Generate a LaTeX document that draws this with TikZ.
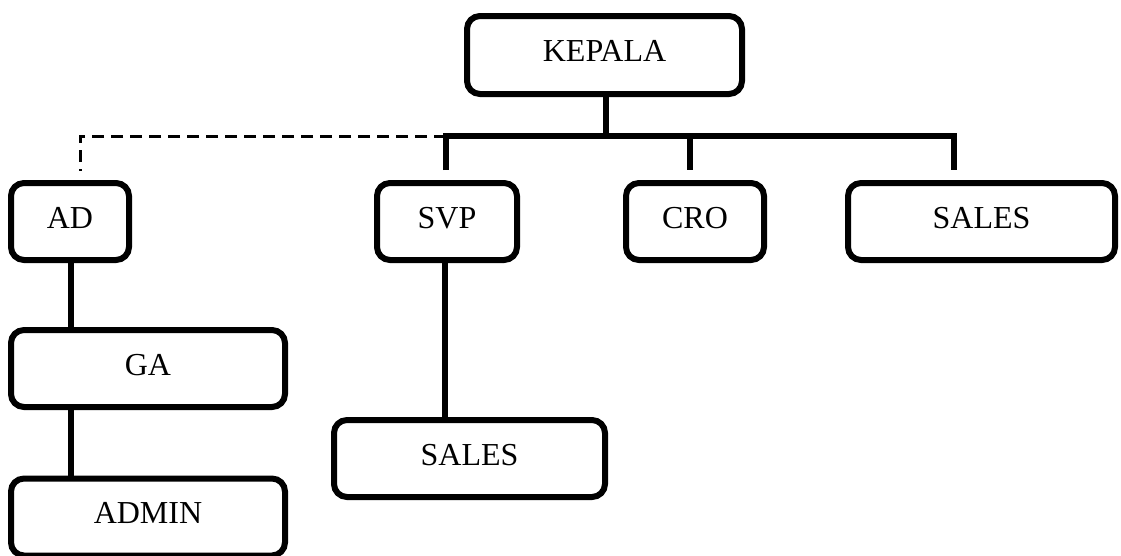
\documentclass[tikz,border=0pt]{standalone}
\usepackage{fontspec}
\setmainfont{Liberation Serif}
\begin{document}
\begin{tikzpicture}[x=1pt,y=-1pt,
  box/.style={draw=black, line width=6pt, rounded corners=13pt, fill=white,
    inner sep=0pt, minimum height=77pt, text height=21pt, text depth=8pt,
    font=\fontsize{32}{38}\selectfont},
  conn/.style={line width=6pt, draw=black},
  dashconn/.style={line width=3pt, draw=black, dash pattern=on 12pt off 7pt}]
\useasboundingbox (0,0) rectangle (1121,555);
\node[box, minimum width=275pt, minimum height=78pt] (kepala) at (604.5,55) {KEPALA};
\node[box, minimum width=118pt] (ad) at (70,221.5) {AD};
\node[box, minimum width=140pt] (svp) at (447,221.5) {SVP};
\node[box, minimum width=138pt] (cro) at (695,221.5) {CRO};
\node[box, minimum width=267pt] (sales) at (981.5,221.5) {SALES};
\node[box, minimum width=274pt] (ga) at (148,368.5) {GA};
\node[box, minimum width=274pt] (admin) at (148,517) {ADMIN};
\node[box, minimum width=271pt] (sales2) at (469.5,458.5) {SALES};
\coordinate (barL) at (446,136);
\coordinate (barR) at (954,136);
\draw[conn] ([xshift=1.5pt]kepala.south) -- ([xshift=1.5pt]kepala.south |- barL);
\draw[conn] ([xshift=-1pt,yshift=10pt]svp.north) -- ([xshift=-1pt]svp.north |- barL) -- (barR) -- ([yshift=10pt]barR |- sales.north);
\draw[conn] ([xshift=-5pt]cro.north |- barL) -- ([xshift=-5pt,yshift=10pt]cro.north);
\draw[dashconn] (barL) -| ([xshift=10pt,yshift=9pt]ad.north);
\draw[conn] ([xshift=1pt]ad.south) -- ([xshift=1pt]ad.south |- ga.north);
\draw[conn] ([xshift=1pt]ad.south |- ga.south) -- ([xshift=1pt]ad.south |- admin.north);
\draw[conn] ([xshift=-2pt]svp.south) -- ([xshift=-2pt]svp.south |- sales2.north);
\end{tikzpicture}
\end{document}
